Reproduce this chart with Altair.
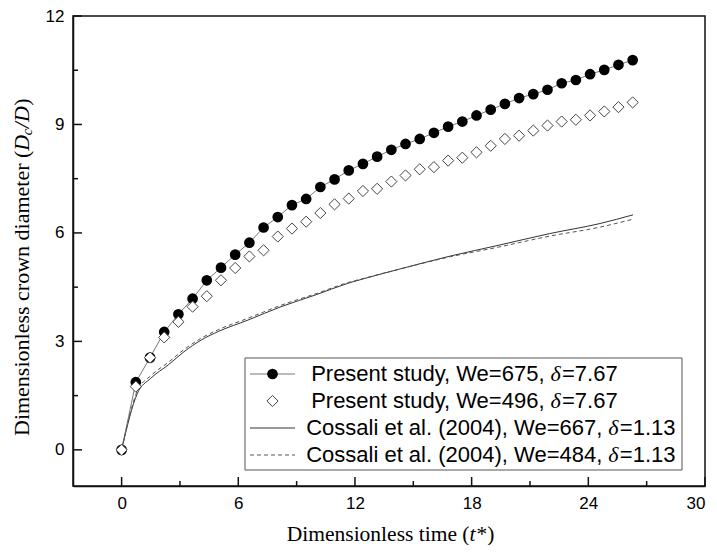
import altair as alt
import pandas as pd

# ---------------- data ----------------
t_present = [0, 0.73, 1.46, 2.19, 2.92, 3.65, 4.38, 5.11, 5.84, 6.57, 7.30, 8.03,
             8.76, 9.49, 10.22, 10.95, 11.68, 12.41, 13.14, 13.87, 14.60, 15.33,
             16.06, 16.79, 17.52, 18.25, 18.98, 19.71, 20.44, 21.17, 21.90, 22.63,
             23.36, 24.09, 24.82, 25.55, 26.28]
we675 = [0, 1.87, 2.55, 3.26, 3.75, 4.18, 4.69, 5.04, 5.40, 5.73, 6.15, 6.44,
         6.77, 6.94, 7.27, 7.48, 7.73, 7.91, 8.11, 8.30, 8.46, 8.60,
         8.77, 8.94, 9.08, 9.25, 9.41, 9.57, 9.73, 9.84, 9.96, 10.14,
         10.23, 10.39, 10.51, 10.65, 10.78]
we496 = [0, 1.75, 2.55, 3.11, 3.54, 3.96, 4.25, 4.69, 5.03, 5.35, 5.52, 5.90,
         6.12, 6.31, 6.55, 6.79, 6.95, 7.16, 7.22, 7.42, 7.59, 7.76,
         7.82, 8.00, 8.08, 8.23, 8.41, 8.60, 8.69, 8.83, 8.97, 9.08,
         9.13, 9.25, 9.36, 9.48, 9.61]

t_cossali = [0, 0.8, 1.5, 2.4, 3.2, 4.1, 5.0, 6.5, 8.2, 10.0, 11.6, 12.5,
             14.3, 16.9, 19.4, 22.0, 24.6, 26.3]
we667 = [0, 1.55, 1.98, 2.35, 2.71, 3.04, 3.28, 3.59, 3.96, 4.29, 4.60, 4.74,
         5.00, 5.36, 5.66, 5.98, 6.26, 6.50]
we484 = [0, 1.62, 2.05, 2.42, 2.77, 3.09, 3.33, 3.64, 4.00, 4.32, 4.62, 4.75,
         5.00, 5.34, 5.61, 5.91, 6.16, 6.38]

x_ticks = [0, 6, 12, 18, 24, 30]
x_minor = [3, 9, 15, 21, 27]
y_ticks = [0, 3, 6, 9, 12]
y_minor = [1.5, 4.5, 7.5, 10.5]

legend_prefix = ["Present study, We=675,", "Present study, We=496,",
                 "Cossali et al. (2004), We=667,", "Cossali et al. (2004), We=484,"]
legend_suffix = ["=7.67", "=7.67", "=1.13", "=1.13"]

# ---------------- layout ----------------
W, H = 632, 470
SANS = "Liberation Sans"
SERIF = "Liberation Serif"

xs = alt.Scale(domain=[-2.5, 30], nice=False, zero=False)
ys = alt.Scale(domain=[-1, 12], nice=False, zero=False)

x_axis = alt.Axis(values=x_ticks, ticks=False, tickSize=0, grid=False, title=None,
                  labelFont=SANS, labelFontSize=17, labelColor="#000",
                  labelPadding=9, domainColor="#111", domainWidth=1.5)
y_axis = alt.Axis(values=y_ticks, ticks=False, tickSize=0, grid=False, title=None,
                  labelFont=SANS, labelFontSize=17, labelColor="#000",
                  labelPadding=9, domainColor="#111", domainWidth=1.5)


def X(field):
    return alt.X(field, type="quantitative", scale=xs, axis=x_axis)


def Y(field):
    return alt.Y(field, type="quantitative", scale=ys, axis=y_axis)


df_p = pd.DataFrame({"t": t_present, "we675": we675, "we496": we496})
df_c = pd.DataFrame({"t": t_cossali, "we667": we667, "we484": we484})
one = pd.DataFrame({"k": [0]})

layers = []

# Cossali curves
layers.append(alt.Chart(df_c).mark_line(color="#333", strokeWidth=1, interpolate="monotone").encode(
    x=X("t"), y=Y("we667")))
layers.append(alt.Chart(df_c).mark_line(color="#555", strokeWidth=1, strokeDash=[4, 3],
                                        interpolate="monotone").encode(
    x=X("t"), y=Y("we484")))
# present study We=675: line + filled circles
layers.append(alt.Chart(df_p).mark_line(color="#555", strokeWidth=0.8).encode(
    x=X("t"), y=Y("we675")))
layers.append(alt.Chart(df_p).mark_circle(size=115, color="#000", opacity=1).encode(
    x=X("t"), y=Y("we675")))
# present study We=496: open diamonds
layers.append(alt.Chart(df_p).mark_point(shape="diamond", size=125, filled=True, fill="white",
                                         stroke="#444", strokeWidth=1, opacity=1).encode(
    x=X("t"), y=Y("we496")))

# inward ticks
layers.append(alt.Chart(pd.DataFrame({"v": x_ticks})).mark_rule(color="#111", strokeWidth=1.5).encode(
    x=X("v"), y=alt.value(H), y2=alt.value(H - 9)))
layers.append(alt.Chart(pd.DataFrame({"v": x_minor})).mark_rule(color="#111", strokeWidth=1.5).encode(
    x=X("v"), y=alt.value(H), y2=alt.value(H - 5)))
layers.append(alt.Chart(pd.DataFrame({"v": y_ticks})).mark_rule(color="#111", strokeWidth=1.5).encode(
    y=Y("v"), x=alt.value(0), x2=alt.value(9)))
layers.append(alt.Chart(pd.DataFrame({"v": y_minor})).mark_rule(color="#111", strokeWidth=1.5).encode(
    y=Y("v"), x=alt.value(0), x2=alt.value(5)))

# ---------------- legend ----------------
LX0, LX1, LY0, LY1 = 172, 609, 342, 454
layers.append(alt.Chart(one).mark_rect(fill="white", stroke="#555", strokeWidth=1).encode(
    x=alt.value(LX0), x2=alt.value(LX1), y=alt.value(LY0), y2=alt.value(LY1)))
rows = [358, 385, 412, 439]
# row symbols
layers.append(alt.Chart(one).mark_rule(color="#555", strokeWidth=0.8).encode(
    x=alt.value(177), x2=alt.value(222), y=alt.value(rows[0])))
layers.append(alt.Chart(one).mark_circle(size=115, color="#000", opacity=1).encode(
    x=alt.value(199.5), y=alt.value(rows[0])))
layers.append(alt.Chart(one).mark_point(shape="diamond", size=125, filled=True, fill="white",
                                        stroke="#444", strokeWidth=1, opacity=1).encode(
    x=alt.value(199.5), y=alt.value(rows[1])))
layers.append(alt.Chart(one).mark_rule(color="#333", strokeWidth=1).encode(
    x=alt.value(177), x2=alt.value(222), y=alt.value(rows[2])))
layers.append(alt.Chart(one).mark_rule(color="#555", strokeWidth=1, strokeDash=[4, 3]).encode(
    x=alt.value(177), x2=alt.value(222), y=alt.value(rows[3])))

delta_x = [477.5, 477.5, 535.3, 535.3]
for i in range(4):
    dx = delta_x[i]
    layers.append(alt.Chart(one).mark_text(text=legend_prefix[i], align="right", baseline="middle",
                                           font=SANS, fontSize=22, color="#000").encode(
        x=alt.value(dx - 6), y=alt.value(rows[i])))
    layers.append(alt.Chart(one).mark_text(text="δ", align="left", baseline="middle",
                                           font=SERIF, fontStyle="italic", fontSize=22, color="#000").encode(
        x=alt.value(dx), y=alt.value(rows[i])))
    layers.append(alt.Chart(one).mark_text(text=legend_suffix[i], align="left", baseline="middle",
                                           font=SANS, fontSize=22, color="#000").encode(
        x=alt.value(dx + 11.5), y=alt.value(rows[i])))

# ---------------- axis titles (mixed styles) ----------------
XT_Y = 525
XT_T = 396.5
layers.append(alt.Chart(one).mark_text(text="Dimensionless time (", align="right", baseline="alphabetic",
                                       font=SERIF, fontSize=21.5, color="#000").encode(
    x=alt.value(XT_T), y=alt.value(XT_Y)))
layers.append(alt.Chart(one).mark_text(text="t", align="left", baseline="alphabetic",
                                       font=SERIF, fontStyle="italic", fontSize=21.5, color="#000").encode(
    x=alt.value(XT_T), y=alt.value(XT_Y)))
layers.append(alt.Chart(one).mark_text(text="*)", align="left", baseline="alphabetic",
                                       font=SERIF, fontSize=21.5, color="#000").encode(
    x=alt.value(XT_T + 7), y=alt.value(XT_Y)))

YT_X = -51
YT_D = 134.7
layers.append(alt.Chart(one).mark_text(text="Dimensionless crown diameter (", align="right", baseline="middle",
                                       angle=270, font=SERIF, fontSize=22, color="#000").encode(
    x=alt.value(YT_X), y=alt.value(YT_D)))
layers.append(alt.Chart(one).mark_text(text="D", align="left", baseline="middle", angle=270,
                                       font=SERIF, fontStyle="italic", fontSize=22, color="#000").encode(
    x=alt.value(YT_X), y=alt.value(YT_D)))
layers.append(alt.Chart(one).mark_text(text="c", align="left", baseline="middle", angle=270,
                                       font=SERIF, fontStyle="italic", fontSize=15, color="#000").encode(
    x=alt.value(YT_X + 5), y=alt.value(YT_D - 15.5)))
layers.append(alt.Chart(one).mark_text(text="/D", align="left", baseline="middle", angle=270,
                                       font=SERIF, fontStyle="italic", fontSize=22, color="#000").encode(
    x=alt.value(YT_X), y=alt.value(YT_D - 22.5)))
layers.append(alt.Chart(one).mark_text(text=")", align="left", baseline="middle", angle=270,
                                       font=SERIF, fontSize=22, color="#000").encode(
    x=alt.value(YT_X), y=alt.value(YT_D - 45)))

chart = alt.layer(*layers).properties(
    width=W, height=H,
    autosize=alt.AutoSizeParams(type="none"),
    padding={"left": 65, "top": 8, "right": 4, "bottom": 59},
    background="white",
).configure_view(stroke="#111", strokeWidth=1.5)

chart.save("out.html", embed_options={"renderer": "svg", "actions": False})
